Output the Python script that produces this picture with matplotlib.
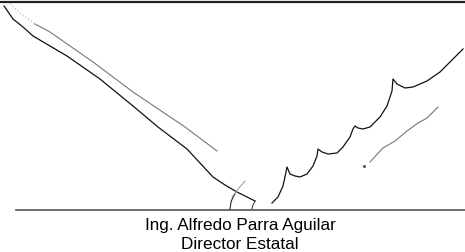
import matplotlib.pyplot as plt
import numpy as np

# trazos de la firma (coordenadas en pixeles de la imagen)
trazo_oscuro_x = [4, 13, 23, 33, 67, 100, 133, 158, 187, 213, 225, 237, 247, 255]
trazo_oscuro_y = [7, 20, 28, 37, 57, 80, 107, 128, 150, 178, 186, 193, 198, 202]

trazo_claro_x = [10, 20, 35, 50, 93, 133, 185, 217]
trazo_claro_y = [5, 14, 25, 33, 63, 93, 128, 152]

ondas_x = [272, 278, 283, 286, 287, 290, 295, 300, 307, 313, 317, 318, 322, 328, 337, 343,
           350, 353, 355, 358, 363, 370, 380, 387, 392, 393, 397, 405, 413, 427, 440, 453, 463]
ondas_y = [204, 198, 187, 173, 168, 175, 177, 178, 175, 167, 157, 150, 153, 155, 154, 148,
           138, 130, 127, 129, 130, 128, 118, 107, 92, 80, 85, 89, 88, 82, 73, 60, 50]

rasgo_x = [370, 383, 395, 407, 418, 427, 438]
rasgo_y = [163, 149, 142, 132, 124, 119, 108]
punto = (364, 167)

rulo_x = [230, 231, 233, 235]
rulo_y = [210, 203, 198, 195]
tick_x = [232, 238, 245]
tick_y = [198, 190, 182]
cola_x = [255, 253, 252]
cola_y = [202, 206, 210]

nombre = "Ing. Alfredo Parra Aguilar"
cargo = "Director Estatal"

fig = plt.figure(figsize=(4.65, 2.53), dpi=100)
ax = fig.add_axes([0, 0, 1, 1])
ax.set_xlim(0, 465)
ax.set_ylim(253, 0)
ax.axis('off')

# lineas de la hoja
ax.plot([0, 465], [2.5, 2.5], color='#222222', lw=1.6)
ax.plot([16, 465], [210.5, 210.5], color='#555555', lw=1.2)

ax.plot(trazo_claro_x[:3], trazo_claro_y[:3], color='#aaaaaa', lw=0.8, ls=(0, (1, 2)))
ax.plot(trazo_claro_x[2:], trazo_claro_y[2:], color='#777777', lw=0.8)
ax.plot(trazo_oscuro_x, trazo_oscuro_y, color='#111111', lw=0.9)
ax.plot(ondas_x, ondas_y, color='#111111', lw=0.9)
ax.plot(rasgo_x, rasgo_y, color='#777777', lw=0.8)
ax.plot(*punto, marker='o', ms=1.2, color='#555555')
ax.plot(rulo_x, rulo_y, color='#222222', lw=0.8)
ax.plot(tick_x, tick_y, color='#999999', lw=0.7)
ax.plot(cola_x, cola_y, color='#333333', lw=0.7)

ax.text(240, 230, nombre, ha='center', va='baseline', fontsize=12.3,
        family='Liberation Sans', color='black')
ax.text(240, 249.5, cargo, ha='center', va='baseline', fontsize=12.3,
        family='Liberation Sans', color='black')

fig.savefig('out.png', dpi=100)
